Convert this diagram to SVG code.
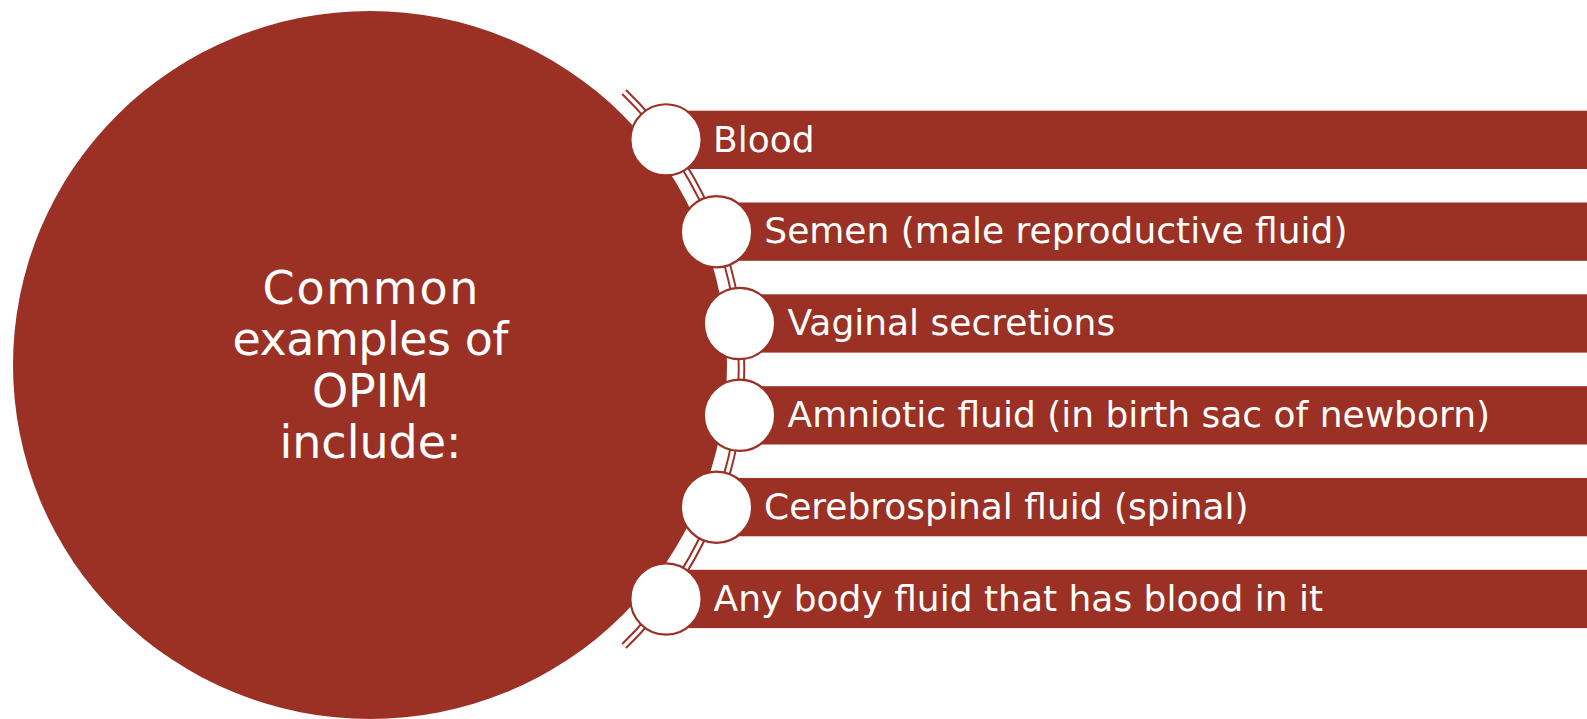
<svg xmlns="http://www.w3.org/2000/svg" width="1587" height="719" viewBox="0 0 1587 719">
  <style>
    .red { fill: #9B3025; }
    .bar { fill: #9B3025; }
    .node-circle { fill: #FFFFFF; stroke: #9B3025; stroke-width: 2.2; }
    .arc-outer { fill: none; stroke: #9B3025; stroke-width: 7.5; stroke-linecap: butt; }
    .arc-inner { fill: none; stroke: #FFFFFF; stroke-width: 3.6; stroke-linecap: butt; }
    .main-text { font-family: "DejaVu Sans", "Liberation Sans", sans-serif; font-size: 46px; fill: #FFFFFF; text-anchor: middle; }
    .item-text { font-family: "DejaVu Sans", "Liberation Sans", sans-serif; font-size: 36px; fill: #FFFFFF; }
  </style>
  <rect x="0" y="0" width="1587" height="719" fill="#FFFFFF"/>

  <g id="center-node">
    <ellipse class="red" cx="370" cy="365" rx="357" ry="354"/>
    <text class="main-text" x="370.5" y="304" textLength="216" lengthAdjust="spacing">Common</text>
    <text class="main-text" x="370.5" y="355" textLength="276" lengthAdjust="spacing">examples of</text>
    <text class="main-text" x="370.5" y="406.5">OPIM</text>
    <text class="main-text" x="370.5" y="458">include:</text>
  </g>

  <g id="connectors">
    <path class="arc-outer" d="M 624.1 92 A 385.5 385.5 0 0 1 624.1 646"/>
    <path class="arc-inner" d="M 624.1 92 A 385.5 385.5 0 0 1 624.1 646"/>
  </g>

  <g id="node-blood">
    <rect class="bar" x="666" y="110.7" width="930" height="58.3"/>
    <circle class="node-circle" cx="666" cy="139.85" r="35.6"/>
    <text class="item-text" x="713" y="151.6">Blood</text>
  </g>

  <g id="node-semen">
    <rect class="bar" x="716.2" y="202.5" width="880" height="58.3"/>
    <circle class="node-circle" cx="716.5" cy="231.7" r="35.6"/>
    <text class="item-text" x="764.3" y="243.4">Semen (male reproductive fluid)</text>
  </g>

  <g id="node-vaginal">
    <rect class="bar" x="739.5" y="294.3" width="860" height="58.3"/>
    <circle class="node-circle" cx="739.5" cy="323.5" r="35.6"/>
    <text class="item-text" x="787.5" y="335.2">Vaginal secretions</text>
  </g>

  <g id="node-amniotic">
    <rect class="bar" x="739.5" y="386.2" width="860" height="58.3"/>
    <circle class="node-circle" cx="739.5" cy="415.3" r="35.6"/>
    <text class="item-text" x="787.5" y="427">Amniotic fluid (in birth sac of newborn)</text>
  </g>

  <g id="node-cerebrospinal">
    <rect class="bar" x="716.2" y="478" width="880" height="58.3"/>
    <circle class="node-circle" cx="716.5" cy="507.2" r="35.6"/>
    <text class="item-text" x="764" y="518.9">Cerebrospinal fluid (spinal)</text>
  </g>

  <g id="node-any">
    <rect class="bar" x="666" y="569.8" width="930" height="58.3"/>
    <circle class="node-circle" cx="666" cy="599" r="35.6"/>
    <text class="item-text" x="713.5" y="610.7">Any body fluid that has blood in it</text>
  </g>
</svg>
